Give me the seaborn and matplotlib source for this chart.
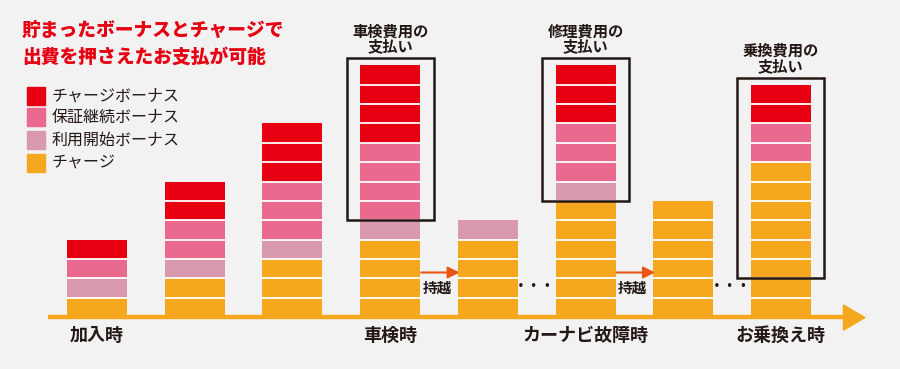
import numpy as np
import pandas as pd
import matplotlib.pyplot as plt
import seaborn as sns
from matplotlib.patches import Rectangle, Polygon

# ===============================
# データ (ブロック数)
# ===============================
stages = ["s0", "s1", "s2", "s3", "s4", "s5", "s6", "s7"]
charge = [1, 2, 3, 4, 4, 6, 6, 8]            # チャージ
start_bonus = [1, 1, 1, 1, 1, 1, 0, 0]       # 利用開始ボーナス
warranty_bonus = [1, 2, 3, 4, 0, 3, 0, 2]    # 保証継続ボーナス
charge_bonus = [1, 2, 3, 4, 0, 3, 0, 2]      # チャージボーナス

stage_labels = {0: "加入時", 3: "車検時", 5: "カーナビ故障時", 7: "お乗換え時"}
pay_stages = [3, 5, 7]
pay_labels = ["車検費用の\n支払い", "修理費用の\n支払い", "乗換費用の\n支払い"]
pay_bottom = [5, 6, 2]
carry_stages = [3, 5]

legend_names = ["チャージボーナス", "保証継続ボーナス", "利用開始ボーナス", "チャージ"]
colors = ["#E60012", "#EA6A8F", "#D899AF", "#F5A71E"]
bg = "#F2F2F2"
dark = "#231815"
arrow_col = "#EA5514"

sns.set_style("white")
plt.rcParams["font.family"] = ["Noto Sans CJK JP", "DejaVu Sans"]

df = pd.DataFrame({"stage": stages, "charge": charge, "start": start_bonus,
                   "warranty": warranty_bonus, "cbonus": charge_bonus})
df["l1"] = df["charge"]
df["l2"] = df["l1"] + df["start"]
df["l3"] = df["l2"] + df["warranty"]
df["l4"] = df["l3"] + df["cbonus"]

fig = plt.figure(figsize=(9, 3.69), dpi=100, facecolor=bg)
ax = fig.add_axes([0, 0, 1, 1])
ax.set_facecolor(bg)

bw = 0.614
# 上の層から順に累積値で重ねる
for col, c in zip(["l4", "l3", "l2", "l1"], colors):
    sns.barplot(data=df, x="stage", y=col, color=c, width=bw, linewidth=0,
                saturation=1, ax=ax, zorder=2)

# ブロック区切り (白線)
for i, total in enumerate(df["l4"]):
    for k in range(1, total):
        ax.plot([i - bw / 2, i + bw / 2], [k, k], color="white", lw=1.3, zorder=3)

# 軸範囲 (ピクセルに合わせる)
ax.set_xlim(-0.993, 8.219)
ax.set_ylim(-2.687, 16.38)
ax.axis("off")

# 基準線と矢印
ax.plot([-0.5, 7.72], [0, 0], color="#F5A71E", lw=3.2, zorder=1, solid_capstyle="butt")
ax.add_patch(Polygon([[7.64, 0.62], [7.64, -0.68], [7.86, -0.03]], closed=True,
                     color="#F5A71E", zorder=1))

# 支払い枠
for s, lab, b in zip(pay_stages, pay_labels, pay_bottom):
    top = df["l4"][s] + 0.36
    ax.add_patch(Rectangle((s - 0.445, b), 0.89, top - b, fill=False,
                           edgecolor=dark, lw=1.8, zorder=5))
    ax.text(s, top + 0.2, lab, ha="center", va="bottom", fontsize=11,
            color=dark, fontweight="bold", linespacing=0.95)

# 持越の矢印
for s in carry_stages:
    ax.annotate("", xy=(s + 0.74, 2.3), xytext=(s + 0.29, 2.3),
                arrowprops=dict(arrowstyle="-|>,head_length=0.7,head_width=0.35",
                                color=arrow_col, lw=1.5), zorder=4)
    ax.text(s + 0.48, 1.5, "持越", ha="center", va="center", fontsize=10.5,
            color=dark, fontweight="bold")
    ax.text(s + 1.48, 1.55, "・・・", ha="center", va="center", fontsize=10,
            color=dark, fontweight="bold")

# 段階ラベル
for s, lab in stage_labels.items():
    ax.text(s, -0.95, lab, ha="center", va="center", fontsize=13,
            color=dark, fontweight="bold")

# タイトル
fig.text(22 / 900, 1 - 30 / 369, "貯まったボーナスとチャージで", fontsize=13.5,
         color="#E60012", fontweight="black", va="center")
fig.text(22 / 900, 1 - 57 / 369, "出費を押さえたお支払が可能", fontsize=13.5,
         color="#E60012", fontweight="black", va="center")

# 凡例
for name, c, y in zip(legend_names, colors, [96, 117, 140, 163]):
    fig.patches.append(Rectangle((27 / 900, 1 - (y + 9) / 369), 18 / 900, 18 / 369,
                                 transform=fig.transFigure, color=c))
    fig.text(52 / 900, 1 - y / 369, name, fontsize=11.5, color=dark, va="center")

fig.savefig("out.png", dpi=100, facecolor=bg)
